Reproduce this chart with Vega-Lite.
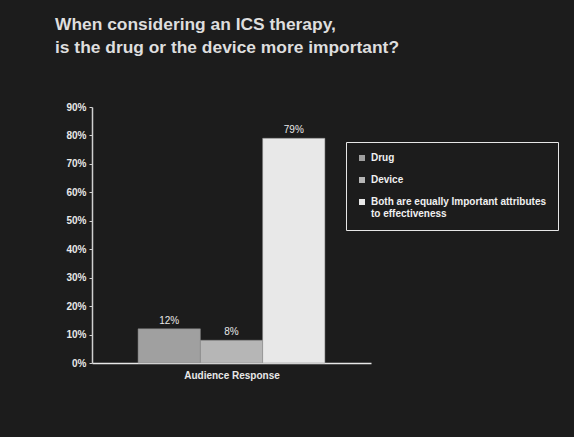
{
  "$schema": "https://vega.github.io/schema/vega-lite/v6.json",
  "autosize": {"type": "none"},
  "width": 279,
  "height": 256,
  "padding": {"left": 92, "top": 107, "right": 203, "bottom": 74},
  "background": "#1c1c1c",
  "title": {
    "text": ["When considering an ICS therapy,", "is the drug or the device more important?"],
    "anchor": "start",
    "frame": "group",
    "dx": -37,
    "offset": 46,
    "font": "Liberation Sans",
    "fontSize": 17.4,
    "fontWeight": "bold",
    "color": "#dedede",
    "lineHeight": 23
  },
  "data": {
    "values": [
      {"group": "Audience Response", "answer": "Drug", "pct": 0.12},
      {"group": "Audience Response", "answer": "Device", "pct": 0.08},
      {"group": "Audience Response", "answer": "Both are equally Important attributes to effectiveness", "pct": 0.79}
    ]
  },
  "encoding": {
    "x": {
      "field": "answer",
      "type": "nominal",
      "sort": null,
      "scale": {"paddingInner": 0, "paddingOuter": 0.74},
      "axis": {
        "title": "Audience Response",
        "labels": false,
        "ticks": false,
        "domainColor": "#e8e8e8",
        "domainWidth": 1.5,
        "titleColor": "#e8e8e8",
        "titleFont": "Liberation Sans",
        "titleFontSize": 10,
        "titleFontWeight": "bold",
        "titlePadding": 7
      }
    },
    "y": {
      "field": "pct",
      "type": "quantitative",
      "scale": {"domain": [0, 0.9]},
      "axis": {
        "title": null,
        "format": ".0%",
        "values": [0, 0.1, 0.2, 0.3, 0.4, 0.5, 0.6, 0.7, 0.8, 0.9],
        "grid": false,
        "domainColor": "#d0d0d0",
        "domainWidth": 1.5,
        "tickColor": "#d0d0d0",
        "tickSize": 3,
        "labelColor": "#e8e8e8",
        "labelFont": "Liberation Sans",
        "labelFontSize": 10,
        "labelFontWeight": "bold",
        "labelPadding": 3
      }
    }
  },
  "layer": [
    {
      "mark": {"type": "bar", "stroke": "#8a8a8a", "strokeWidth": 0.5},
      "encoding": {
        "color": {
          "field": "answer",
          "type": "nominal",
          "scale": {
            "domain": ["Drug", "Device", "Both are equally Important attributes to effectiveness"],
            "range": ["#a0a0a0", "#b6b6b6", "#e8e8e8"]
          },
          "legend": {
            "title": null,
            "orient": "none",
            "legendX": 254,
            "legendY": 35,
            "padding": 11,
            "strokeColor": "#e6e6e6",
            "symbolType": "square",
            "symbolSize": 36,
            "symbolStrokeWidth": 0,
            "symbolOffset": 0,
            "labelColor": "#f0f0f0",
            "labelFont": "Liberation Sans",
            "labelFontSize": 10,
            "labelFontWeight": "bold",
            "labelOffset": 4,
            "labelLimit": 250,
            "rowPadding": 12,
            "labelExpr": "datum.label == 'Drug' || datum.label == 'Device' ? datum.label : ['Both are equally Important attributes', 'to effectiveness']"
          }
        }
      }
    },
    {
      "mark": {"type": "text", "dy": -8, "color": "#e8e8e8", "font": "Liberation Sans", "fontSize": 10},
      "encoding": {
        "text": {"field": "pct", "type": "quantitative", "format": ".0%"}
      }
    }
  ],
  "config": {
    "view": {"stroke": null}
  }
}
